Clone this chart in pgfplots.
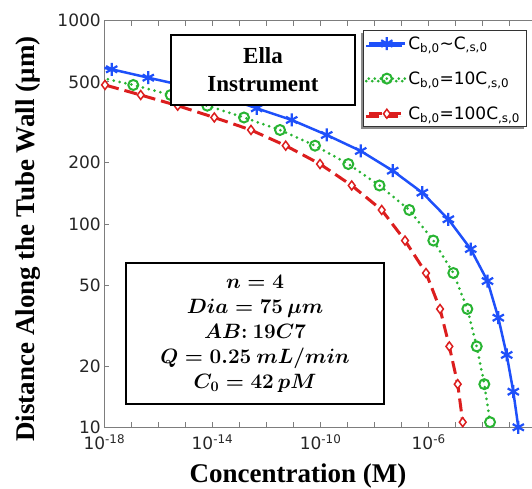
\documentclass[border=0pt]{standalone}
\usepackage{fontspec}
\setmainfont{Liberation Serif}
\newfontfamily\dejavu{DejaVu Sans}
\usepackage{pgfplots}
\pgfplotsset{compat=1.18}
\usetikzlibrary{shadows}
\definecolor{mblue}{RGB}{30,80,250}
\definecolor{mgreen}{RGB}{40,180,50}
\definecolor{mred}{RGB}{220,30,30}
\definecolor{axgray}{RGB}{125,125,125}
\begin{document}
\begin{tikzpicture}
\begin{axis}[
  at={(0,0)}, anchor=south west,
  scale only axis, width=432.5pt, height=406.6pt,
  xmode=log, ymode=log,
  xmin=1e-18, xmax=1e-2, ymin=10, ymax=1000,
  xtick={1e-18,1e-17,1e-16,1e-15,1e-14,1e-13,1e-12,1e-11,1e-10,1e-9,1e-8,1e-7,1e-6,1e-5,1e-4,1e-3,1e-2},
  xticklabels={10\textsuperscript{-18},,,,10\textsuperscript{-14},,,,10\textsuperscript{-10},,,,10\textsuperscript{-6},,,,},
  ytick={10,20,50,100,200,500,1000},
  yticklabels={10,20,50,100,200,500,1000},
  tick label style={font=\dejavu\fontsize{17}{20}\selectfont, text=black!85},
  xticklabel style={yshift=-4pt},
  axis line style={axgray, line width=1pt},
  tick style={axgray, line width=0.8pt},
  major tick length=5pt,
  minor tick style={draw=none},
  every axis x label/.style={at={(axis description cs:0.448,0)}, anchor=center, yshift=-49pt},
  every axis y label/.style={at={(axis description cs:-0.1764,0.463)}, anchor=center, rotate=90},
  label style={font=\fontsize{27}{30}\selectfont\bfseries},
  xlabel={Concentration (M)},
  ylabel={Distance Along the Tube Wall (μm)},
  legend style={at={(axis description cs:0.598,0.977)}, anchor=north west,
    draw=black!80, line width=0.8pt, fill=white,
    font=\dejavu\fontsize{17}{20}\selectfont,
    drop shadow={shadow xshift=-2.5pt, shadow yshift=-2.5pt, fill=black!45, opacity=1},
    inner sep=4pt, row sep=17pt},
  legend cell align=left,
  legend image code/.code={\draw[mark repeat=2,mark phase=2,#1] plot coordinates {(0pt,0pt) (18pt,0pt) (36pt,0pt)};},
]
\addplot[mblue, line width=2.5pt, mark=asterisk, mark size=6.5pt, mark options={line width=2.2pt, solid}] coordinates {
(7.94e-20,620) (1.879e-18,576.7) (4.246e-17,524.3) (9.268e-16,478.3) (2.009e-14,426.2)
(4.345e-13,370.8) (8.570e-12,324.8) (1.690e-10,274.1) (3.062e-9,228.6) (4.677e-8,182.9)
(5.821e-7,142.6) (5.333e-6,105.5) (3.589e-5,75.3) (1.503e-4,52.4) (3.767e-4,34.6)
(7.709e-4,22.7) (1.352e-3,14.97) (2.070e-3,10.0)};
\addlegendentry{C\textsubscript{b,0}∼C\textsubscript{,s,0}}
\addplot[mgreen, line width=3pt, dash pattern=on 0pt off 6pt, line cap=round, mark=o, mark size=5pt, mark options={line width=2pt, solid}] coordinates {
(5.0e-19,530) (1.183e-17,482.8) (2.864e-16,431.0) (6.471e-15,381.9) (1.472e-13,334.1)
(3.162e-12,290.0) (6.237e-11,242.8) (1.064e-9,197.3) (1.517e-8,154.7) (1.923e-7,117.2)
(1.486e-6,82.9) (8.166e-6,57.4) (2.692e-5,38.2) (5.984e-5,25.0) (1.143e-4,16.3) (1.858e-4,10.6)};
\addlegendentry{C\textsubscript{b,0}=10C\textsubscript{,s,0}}
\addplot[mred, line width=3pt, dash pattern=on 13pt off 6pt, mark=diamond*, mark size=4.5pt, mark options={solid, fill=white, line width=1.5pt}] coordinates {
(5.0e-20,530) (1.062e-18,482.8) (2.223e-17,431.0) (5.200e-16,381.9) (1.175e-14,334.1)
(2.673e-13,290.0) (5.140e-12,242.8) (9.550e-11,197.3) (1.422e-9,154.7) (1.832e-8,117.2)
(1.334e-7,82.9) (7.962e-7,57.4) (2.630e-6,38.2) (5.808e-6,25.0) (1.186e-5,16.3) (1.816e-5,10.6)};
\addlegendentry{C\textsubscript{b,0}=100C\textsubscript{,s,0}}
\end{axis}
\node[draw=black, line width=1.5pt, fill=white, minimum width=184pt, minimum height=70pt, inner sep=0pt,
  align=center, font=\fontsize{23}{27.7}\selectfont\bfseries] at (158.7pt,357.3pt) {Ella\\Instrument};
\node[draw=black, line width=1.5pt, fill=white, minimum width=258pt, minimum height=141pt, inner sep=0pt,
  align=center, font=\fontsize{20}{25}\selectfont\boldmath] at (150.7pt,93.9pt)
  {$n=4$\\ $Dia=75\,\mu m$\\ $AB{:}\ 19C7$\\ $Q=0.25\ mL/min$\\ $C_0=42\,pM$};
\pgfresetboundingbox
\useasboundingbox (-104.3pt,-61.7pt) rectangle (427.7pt,427.3pt);
\end{tikzpicture}
\end{document}
